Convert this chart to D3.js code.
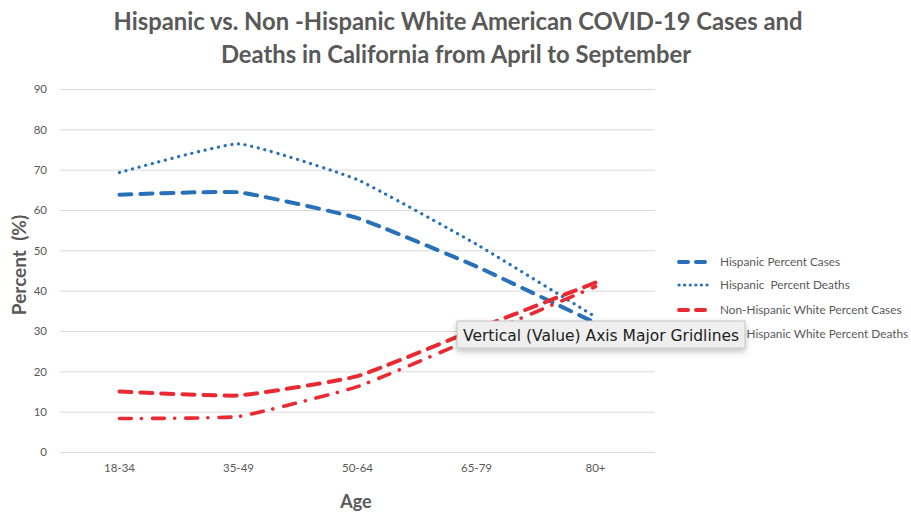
<!DOCTYPE html>
<html>
<head>
<meta charset="utf-8">
<script src="https://cdn.jsdelivr.net/npm/d3@7/dist/d3.min.js"></script>
<style>
  html, body { margin: 0; padding: 0; background: #fff; }
  svg { display: block; }
  text { font-family: Lato, "Open Sans", sans-serif; }
  text.tip-label { font-family: "DejaVu Sans", sans-serif; }
</style>
</head>
<body>
<svg id="chart" width="911" height="512"></svg>
<script>
// Age groups along the x axis
const ageGroups = ["18-34", "35-49", "50-64", "65-79", "80+"];

// Percent of cases / deaths by age group
const hispanicCases = [63.8, 64.4, 58.0, 46.0, 32.0];
const hispanicDeaths = [69.3, 76.4, 67.5, 51.5, 33.5];
const whiteCases = [15.0, 14.0, 18.8, 30.5, 42.0];
const whiteDeaths = [8.3, 8.8, 16.2, 28.5, 41.0];

const yTicks = [0, 10, 20, 30, 40, 50, 60, 70, 80, 90];

const seriesNames = [
  "Hispanic Percent Cases",
  "Hispanic  Percent Deaths",
  "Non-Hispanic White Percent Cases",
  "Non-Hispanic White Percent Deaths"
];

const BLUE = "#2870b8";
const RED = "#ea2a32";

const series = [
  { name: seriesNames[0], values: hispanicCases, color: BLUE, dash: "12 9", legendDash: "9 8", width: 4 },
  { name: seriesNames[1], values: hispanicDeaths, color: BLUE, dash: "0.1 6.7", legendDash: "0.1 5.5", width: 3.2 },
  { name: seriesNames[2], values: whiteCases, color: RED, dash: "12 9", legendDash: "9 8", width: 4 },
  { name: seriesNames[3], values: whiteDeaths, color: RED, dash: "12 10 0.1 11", legendDash: "9 6 0.1 6", width: 3.6 }
];

const svg = d3.select("#chart");
const margin = { left: 60, right: 256, top: 89, bottom: 60 };
const W = 911, H = 512;

const x = d3.scaleBand().domain(ageGroups).range([margin.left, W - margin.right]);
const y = d3.scaleLinear().domain([0, 90]).range([H - margin.bottom, margin.top]);

// Title
const title = svg.append("g").attr("fill", "#595959")
  .attr("font-weight", "bold").attr("font-size", 23.8).attr("text-anchor", "middle");
title.append("text").attr("x", 458).attr("y", 30)
  .text("Hispanic vs. Non -Hispanic White American COVID-19 Cases and");
title.append("text").attr("x", 456).attr("y", 63)
  .text("Deaths in California from April to September");

// Horizontal gridlines
svg.append("g")
  .attr("transform", `translate(${margin.left},0)`)
  .call(d3.axisLeft(y).tickValues(yTicks).tickSize(-(W - margin.right - margin.left)).tickFormat(""))
  .call(g => g.select(".domain").remove())
  .call(g => g.selectAll(".tick line").attr("stroke", "#d9d9d9").attr("stroke-width", 1));

// Y tick labels
svg.append("g")
  .attr("transform", `translate(${margin.left},0)`)
  .call(d3.axisLeft(y).tickValues(yTicks).tickSize(0).tickPadding(13))
  .call(g => g.select(".domain").remove())
  .call(g => g.selectAll(".tick text").attr("fill", "#595959").attr("font-size", 11.5));

// X tick labels
svg.append("g")
  .attr("transform", `translate(0,${H - margin.bottom})`)
  .call(d3.axisBottom(x).tickSize(0).tickPadding(12))
  .call(g => g.select(".domain").remove())
  .call(g => g.selectAll(".tick text").attr("fill", "#595959").attr("font-size", 11.5));

// Axis titles
svg.append("text")
  .attr("transform", "translate(26,265) rotate(-90)")
  .attr("text-anchor", "middle").attr("fill", "#595959")
  .attr("font-weight", "bold").attr("font-size", 19)
  .style("white-space", "pre")
  .text("Percent  (%)");
svg.append("text")
  .attr("x", 356).attr("y", 508)
  .attr("text-anchor", "middle").attr("fill", "#595959")
  .attr("font-weight", "bold").attr("font-size", 18)
  .text("Age");

// Series lines
const line = d3.line()
  .x((d, i) => x(ageGroups[i]) + x.bandwidth() / 2)
  .y(d => y(d))
  .curve(d3.curveCardinal.tension(0.62));

svg.append("g").selectAll("path")
  .data(series)
  .join("path")
  .attr("d", d => line(d.values))
  .attr("fill", "none")
  .attr("stroke", d => d.color)
  .attr("stroke-width", d => d.width)
  .attr("stroke-dasharray", d => d.dash)
  .attr("stroke-linecap", "round");

// Legend
const legendRows = [262, 285, 310, 334];
const legend = svg.append("g");
series.forEach((s, i) => {
  const row = legend.append("g").attr("transform", `translate(0,${legendRows[i]})`);
  row.append("line")
    .attr("x1", 679).attr("x2", 712).attr("y1", 0).attr("y2", 0)
    .attr("stroke", s.color).attr("stroke-width", s.width)
    .attr("stroke-dasharray", s.legendDash)
    .attr("stroke-linecap", "round");
  row.append("text")
    .attr("x", 720).attr("y", 4)
    .attr("fill", "#595959").attr("font-size", 11.8)
    .style("white-space", "pre")
    .text(s.name);
});

// Hover tooltip for the gridlines
const defs = svg.append("defs");
const shadow = defs.append("filter").attr("id", "tipShadow")
  .attr("x", "-10%").attr("y", "-40%").attr("width", "120%").attr("height", "200%");
shadow.append("feDropShadow").attr("dx", 0).attr("dy", 3).attr("stdDeviation", 3)
  .attr("flood-color", "#000").attr("flood-opacity", 0.25);

const tip = svg.append("g");
tip.append("rect")
  .attr("x", 457).attr("y", 321).attr("width", 288).attr("height", 27)
  .attr("fill", "#efefef").attr("stroke", "#c4c4c4").attr("stroke-width", 1)
  .attr("filter", "url(#tipShadow)");
tip.append("text")
  .attr("class", "tip-label")
  .attr("x", 463).attr("y", 340.5)
  .attr("fill", "#222").attr("font-size", 15.5)
  .text("Vertical (Value) Axis Major Gridlines");
</script>
</body>
</html>
